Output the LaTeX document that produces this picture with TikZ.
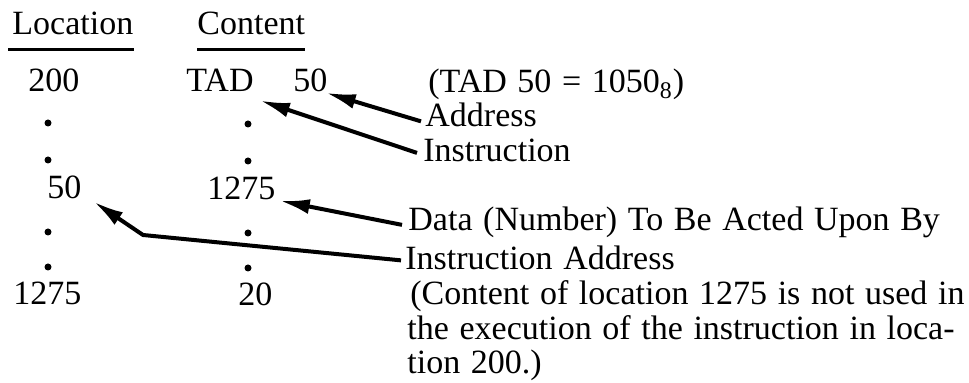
\documentclass[tikz,border=0pt]{standalone}
\usepackage{fontspec}
\setmainfont[WordSpace = 1.25]{Liberation Serif}
\usepackage{tikz}
\usetikzlibrary{arrows.meta}

\begin{document}
\begin{tikzpicture}[x = .5pt, y = -.5pt, font = \fontsize{17}{20}\selectfont,
  txt/.style = {anchor = base west, inner sep = 0pt},
  dot/.style = {circle, fill, inner sep = 0pt, minimum size = 3.5pt},
  ptr/.style = {line width = 2pt, -{Latex[length = 15pt, width = 7.5pt]}}]
  \useasboundingbox (0, 0) rectangle (969, 383);
  % column heads
  \node[txt] (lochead) at (12, 35) {Location};
  \node[txt] (conhead) at (197, 35) {Content};
  \draw [line width = 1.5pt] ([shift = {(-2pt, -7.5pt)}]lochead.base west) -- ([yshift = -7.5pt]lochead.base east);
  \draw [line width = 1.5pt] ([yshift = -7.5pt]conhead.base west) -- ([yshift = -7.5pt]conhead.base east);
  % memory
  \node[txt] (loc200) at (28, 92) {200};
  \node[txt] (tad) at (186, 92) {TAD};
  \node[txt] (adr50) at (293, 92) {50};
  \node[txt] (loc50) at (47, 199) {50};
  \node[txt] (con1275) at (207, 200) {1275};
  \node[txt] (loc1275) at (13, 305) {1275};
  \node[txt] (con20) at (238, 306) {20};
  \foreach \y in {123, 160, 232, 267} {
    \node[dot] at (48, \y) {};
    \node[dot] at (248, \y + 1) {};
  }
  % notes
  \node[txt] (tadnote) at (428, 93) {(TAD 50 = 1050\textsubscript{8})};
  \node[txt] (addr) at (425, 127) {Address};
  \node[txt] (instr) at (423, 162) {Instruction};
  \node[txt] (data) at (408, 231) {Data (Number) To Be Acted Upon By};
  \node[txt] (instaddr) at (405, 270) {Instruction Address};
  \node[txt] (rem1) at (410, 305) {(Content of location 1275 is not used in};
  \node[txt] (rem2) at (407, 340) {the execution of the instruction in loca-};
  \node[txt] (rem3) at (407, 374) {tion 200.)};
  % pointers
  \draw [ptr] ([shift = {(-2pt, -3pt)}]addr.west) -- ([shift = {(-1pt, 0pt)}]adr50.south east);
  \draw [ptr] ([shift = {(-3pt, -1pt)}]instr.west) -- ([shift = {(3pt, -4pt)}]tad.south east);
  \draw [ptr] ([shift = {(-3pt, -1pt)}]data.west) -- ([shift = {(2pt, 0pt)}]con1275.south east);
  \coordinate (bend) at (143, 235);
  \draw [ptr] ([shift = {(-2pt, -1pt)}]instaddr.west) -- (bend) -- ([shift = {(6pt, -1pt)}]loc50.south east);
\end{tikzpicture}
\end{document}
